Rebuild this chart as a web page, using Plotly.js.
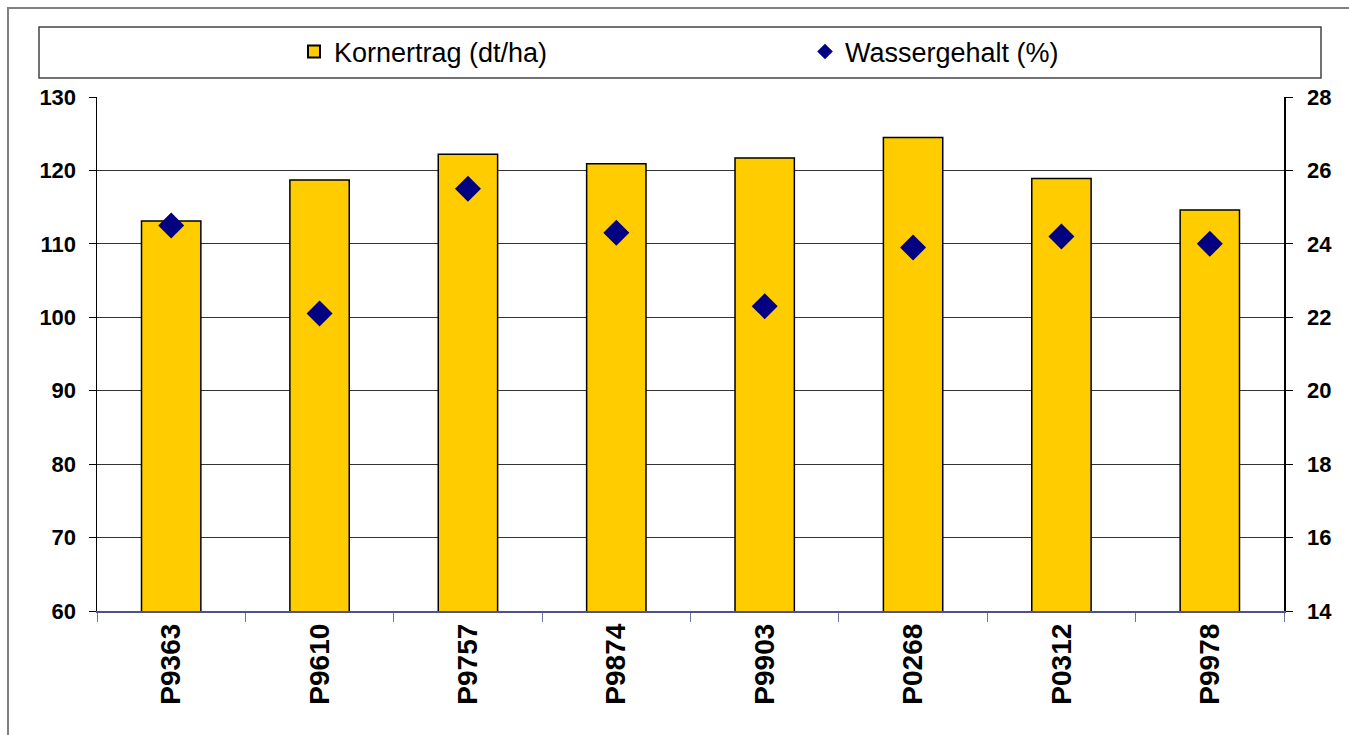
<!DOCTYPE html>
<html>
<head>
<meta charset="utf-8">
<script src="https://cdn.plot.ly/plotly-3.0.1.min.js"></script>
<style>html,body{margin:0;padding:0;background:#fff;}#chart{width:1349px;height:735px;}</style>
</head>
<body>
<div id="chart"></div>
<script>
const categories = ["P9363", "P9610", "P9757", "P9874", "P9903", "P0268", "P0312", "P9978"];
const kornertrag = [113.1, 118.7, 122.2, 120.9, 121.7, 124.5, 118.9, 114.6];
const wassergehalt = [24.5, 22.1, 25.5, 24.3, 22.3, 23.9, 24.2, 24.0];
const seriesNames = ["Kornertrag (dt/ha)", "Wassergehalt (%)"];

const W = 1349, H = 735;
const mL = 97, mR = 65, mT = 97, mB = 124;
const pw = W - mL - mR, ph = H - mT - mB;
const px = x => (x - mL) / pw;
const py = y => (H - mB - y) / ph;
const FONT = "Liberation Sans, Arial, sans-serif";

const traces = [
  {
    type: "bar", name: seriesNames[0], x: categories, y: kornertrag,
    width: 0.4,
    marker: {color: "#FFCC00", line: {color: "#000000", width: 1.5}},
    yaxis: "y"
  },
  {
    type: "scatter", mode: "markers", name: seriesNames[1], x: categories, y: wassergehalt,
    marker: {symbol: "diamond", color: "#000080", size: 20},
    yaxis: "y2"
  }
];

const layout = {
  width: W, height: H,
  margin: {l: mL, r: mR, t: mT, b: mB},
  paper_bgcolor: "#ffffff", plot_bgcolor: "#ffffff",
  font: {family: FONT, color: "#000"},
  showlegend: true,
  legend: {
    orientation: "h", x: px(294), xanchor: "left", y: py(52), yanchor: "middle",
    font: {size: 27, color: "#000", family: FONT}, bgcolor: "rgba(0,0,0,0)",
    entrywidth: 466, itemsizing: "constant"
  },
  xaxis: {
    type: "category", tickangle: -90,
    tickfont: {size: 28, family: FONT, weight: 700, color: "#000"},
    showline: true, linecolor: "#50508a", linewidth: 1.5,
    ticks: "outside", tickson: "boundaries", ticklen: 9, tickcolor: "#7070a8",
    showgrid: false, zeroline: false, fixedrange: true
  },
  yaxis: {
    range: [60, 130], dtick: 10, tick0: 60,
    tickfont: {size: 22, family: FONT, weight: 700, color: "#000"},
    showline: true, linecolor: "#000", linewidth: 1.5,
    ticks: "outside", ticklen: 7, tickcolor: "#000", ticklabelstandoff: 8,
    showgrid: true, gridcolor: "#333333", gridwidth: 1, zeroline: false
  },
  yaxis2: {
    overlaying: "y", side: "right", range: [14, 28], dtick: 2, tick0: 14,
    tickfont: {size: 22, family: FONT, weight: 700, color: "#000"},
    showline: true, linecolor: "#000", linewidth: 1.5,
    ticks: "outside", ticklen: 7, tickcolor: "#000", ticklabelstandoff: 10,
    showgrid: false, zeroline: false
  },
  shapes: [
    {type: "rect", xref: "paper", yref: "paper", x0: px(8), x1: px(1360), y0: py(745), y1: py(8),
     line: {color: "#808080", width: 2}, fillcolor: "rgba(0,0,0,0)", layer: "below"},
    {type: "rect", xref: "paper", yref: "paper", x0: px(39), x1: px(1321), y0: py(78), y1: py(27),
     line: {color: "#444444", width: 1.5}, fillcolor: "rgba(0,0,0,0)", layer: "below"}
  ]
};

Plotly.newPlot("chart", traces, layout, {displayModeBar: false, staticPlot: true});
</script>
</body>
</html>
